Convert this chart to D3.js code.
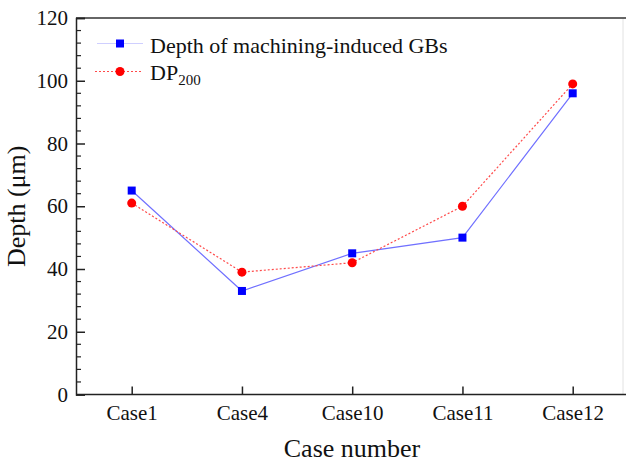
<!DOCTYPE html>
<html>
<head>
<meta charset="utf-8">
<script src="https://cdn.jsdelivr.net/npm/d3@7"></script>
<style>
  html, body { margin: 0; padding: 0; background: #fff; }
  svg { display: block; }
  svg text { font-family: "Liberation Serif", "Times New Roman", serif; }
</style>
</head>
<body>
<svg id="chart" width="626" height="464"></svg>
<script>
// Categories and series values
const cases = ["Case1", "Case4", "Case10", "Case11", "Case12"];
const gbDepth = [65, 33, 45, 50, 96];
const dp200 = [61, 39, 42, 60, 99];
const yTicks = [0, 20, 40, 60, 80, 100, 120];

const serif = '"Liberation Serif", "Times New Roman", serif';
const svg = d3.select("#chart");
const plot = { left: 76, right: 623, top: 18, bottom: 394.5 };

const x = d3.scalePoint()
  .domain(cases)
  .range([131.7, 572.7]);

const y = d3.scaleLinear()
  .domain([0, 120])
  .range([plot.bottom, plot.top]);

// Frame: faint right border, dark top border
svg.append("line")
  .attr("x1", plot.right).attr("x2", plot.right)
  .attr("y1", plot.top).attr("y2", plot.bottom)
  .attr("stroke", "#e2e2e2").attr("stroke-width", 1);
svg.append("line")
  .attr("x1", plot.left).attr("x2", 626)
  .attr("y1", plot.top).attr("y2", plot.top)
  .attr("stroke", "#333").attr("stroke-width", 1.5);

// Y axis with inward major and minor ticks
const yAxis = d3.axisLeft(y).tickValues(yTicks).tickSize(-9).tickPadding(8);
const gy = svg.append("g").attr("transform", `translate(${plot.left},0)`).call(yAxis)
  .attr("font-family", null).attr("font-size", null);
gy.select(".domain").attr("stroke", "#222").attr("stroke-width", 1.5);
gy.selectAll(".tick line").attr("stroke", "#222").attr("stroke-width", 1.5);
gy.selectAll(".tick text")
  .style("font-family", serif)
  .style("font-size", "21px").style("fill", "#111");

const minor = d3.range(0, 121, 4).filter(v => v % 20 !== 0);
svg.append("g").selectAll("line").data(minor).join("line")
  .attr("x1", plot.left).attr("x2", plot.left + 5)
  .attr("y1", d => y(d)).attr("y2", d => y(d))
  .attr("stroke", "#222").attr("stroke-width", 1.2);

// X axis with inward ticks
const xAxis = d3.axisBottom(x).tickSize(-8).tickPadding(11);
const gx = svg.append("g").attr("transform", `translate(0,${plot.bottom})`).call(xAxis)
  .attr("font-family", null).attr("font-size", null);
gx.select(".domain").attr("d", `M${plot.left},0H626`).attr("stroke", "#222").attr("stroke-width", 1.5);
gx.selectAll(".tick line").attr("stroke", "#222").attr("stroke-width", 1.5);
gx.selectAll(".tick text")
  .style("font-family", serif)
  .style("font-size", "21px").style("fill", "#111");

// Axis titles
svg.append("text")
  .attr("x", 352).attr("y", 457)
  .attr("text-anchor", "middle")
  .style("font-size", "26px").style("fill", "#111")
  .text("Case number");

svg.append("text")
  .attr("transform", `translate(25,${(plot.top + plot.bottom) / 2}) rotate(-90)`)
  .attr("text-anchor", "middle")
  .style("font-size", "26px").style("fill", "#111")
  .text("Depth (μm)");

// Series lines
const lineGen = vals => d3.line()
  .x((d, i) => x(cases[i]))
  .y(d => y(d))(vals);

svg.append("path")
  .attr("d", lineGen(gbDepth))
  .attr("fill", "none")
  .attr("stroke", "#7070ff").attr("stroke-width", 1.2);

svg.append("path")
  .attr("d", lineGen(dp200))
  .attr("fill", "none")
  .attr("stroke", "#ff4a4a").attr("stroke-width", 1.2)
  .attr("stroke-dasharray", "2,2");

// Markers
svg.append("g").selectAll("rect").data(gbDepth).join("rect")
  .attr("x", (d, i) => x(cases[i]) - 4)
  .attr("y", d => y(d) - 4)
  .attr("width", 8).attr("height", 8)
  .attr("fill", "#0000ff");

svg.append("g").selectAll("circle").data(dp200).join("circle")
  .attr("cx", (d, i) => x(cases[i]))
  .attr("cy", d => y(d))
  .attr("r", 4.5)
  .attr("fill", "#ff0000");

// Legend
const leg = svg.append("g");
leg.append("line")
  .attr("x1", 97).attr("x2", 143).attr("y1", 43.5).attr("y2", 43.5)
  .attr("stroke", "#cfcfff").attr("stroke-width", 1.2);
leg.append("rect")
  .attr("x", 116).attr("y", 39.5).attr("width", 8).attr("height", 8)
  .attr("fill", "#0000ff");
leg.append("text")
  .attr("x", 150).attr("y", 52.5)
  .style("font-size", "22px").style("fill", "#111")
  .text("Depth of machining-induced GBs");

leg.append("line")
  .attr("x1", 95).attr("x2", 142).attr("y1", 71.5).attr("y2", 71.5)
  .attr("stroke", "#ff4a4a").attr("stroke-width", 1.2)
  .attr("stroke-dasharray", "2,2");
leg.append("circle")
  .attr("cx", 120).attr("cy", 71.5).attr("r", 4.5)
  .attr("fill", "#ff0000");
const dpText = leg.append("text")
  .attr("x", 150).attr("y", 80)
  .style("font-size", "22px").style("fill", "#111");
dpText.append("tspan").text("DP");
dpText.append("tspan").style("font-size", "15px").attr("dy", 5).text("200");
</script>
</body>
</html>
